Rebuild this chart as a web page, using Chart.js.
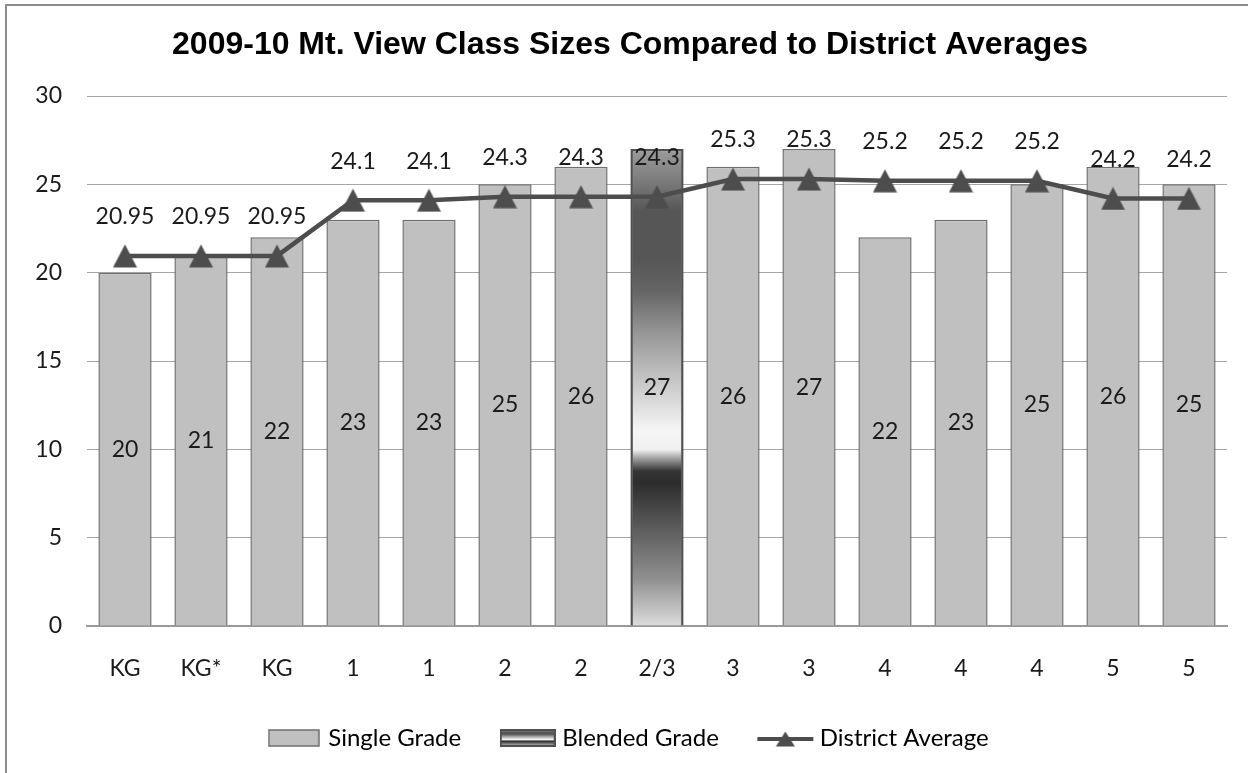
<!DOCTYPE html>
<html>
<head>
<meta charset="utf-8">
<title>2009-10 Mt. View Class Sizes</title>
<script src="https://cdn.jsdelivr.net/npm/chart.js@4.4.0/dist/chart.umd.min.js"></script>
<style>
    body { margin: 0; background: #fff; overflow: hidden; }
    .frame {
        position: absolute; left: 5px; top: 4px; width: 1300px; height: 820px;
        border-top: 2px solid #8c8c8c; border-left: 2px solid #8c8c8c;
    }
    #classChart { position: absolute; left: 0; top: 0; }
</style>
</head>
<body>
<div class="frame"></div>
<canvas id="classChart" width="1248" height="773"></canvas>
<script>
const grades = ['KG', 'KG*', 'KG', '1', '1', '2', '2', '2/3', '3', '3', '4', '4', '4', '5', '5'];
const singleGrade = [20, 21, 22, 23, 23, 25, 26, null, 26, 27, 22, 23, 25, 26, 25];
const blendedGrade = [null, null, null, null, null, null, null, 27, null, null, null, null, null, null, null];
const districtAverage = [20.95, 20.95, 20.95, 24.1, 24.1, 24.3, 24.3, 24.3, 25.3, 25.3, 25.2, 25.2, 25.2, 24.2, 24.2];
const yTicks = [0, 5, 10, 15, 20, 25, 30];

const textFont = 'Lato, "Open Sans", sans-serif';
const textColor = '#1a1a1a';
const barGray = '#c0c0c0';
const lineGray = '#4d4d4d';

// the blended bar is shaded like a metal tube
const blendStops = [
    [0.00, '#9c9c9c'], [0.07, '#7a7a7a'], [0.13, '#565656'], [0.23, '#565656'],
    [0.30, '#666666'], [0.38, '#939393'], [0.49, '#c8c8c8'], [0.59, '#f5f5f5'],
    [0.63, '#f0f0f0'], [0.65, '#9a9a9a'], [0.675, '#353535'], [0.70, '#2d2d2d'],
    [0.76, '#4a4a4a'], [0.83, '#6d6d6d'], [0.90, '#8f8f8f'], [0.97, '#c5c5c5'],
    [1.00, '#dcdcdc']
];

function blendGradient(ctx, top, bottom) {
    const g = ctx.createLinearGradient(0, top, 0, bottom);
    blendStops.forEach(s => g.addColorStop(s[0], s[1]));
    return g;
}

function makeCanvas(w, h, draw) {
    const c = document.createElement('canvas');
    c.width = w;
    c.height = h;
    draw(c.getContext('2d'), w, h);
    return c;
}

function triangle(ctx, cx, cy, w, h) {
    ctx.beginPath();
    ctx.moveTo(cx, cy - h / 2);
    ctx.lineTo(cx + w / 2, cy + h / 2);
    ctx.lineTo(cx - w / 2, cy + h / 2);
    ctx.closePath();
    ctx.fill();
}

const pointMarker = makeCanvas(25, 24, (ctx, w, h) => {
    ctx.fillStyle = lineGray;
    triangle(ctx, w / 2, h / 2, 24, 23);
});

const singleIcon = makeCanvas(52, 18, (ctx, w, h) => {
    ctx.fillStyle = barGray;
    ctx.fillRect(1, 1, w - 2, h - 2);
    ctx.strokeStyle = '#6f6f6f';
    ctx.lineWidth = 1.5;
    ctx.strokeRect(1, 1, w - 2, h - 2);
});

const blendedIcon = makeCanvas(56, 18, (ctx, w, h) => {
    ctx.fillStyle = blendGradient(ctx, 1, h - 1);
    ctx.fillRect(1, 1, w - 2, h - 2);
    ctx.strokeStyle = '#505050';
    ctx.lineWidth = 2;
    ctx.strokeRect(1, 1, w - 2, h - 2);
});

const districtIcon = makeCanvas(58, 18, (ctx, w, h) => {
    ctx.strokeStyle = lineGray;
    ctx.lineWidth = 4;
    ctx.beginPath();
    ctx.moveTo(1, h / 2 + 1);
    ctx.lineTo(w - 1, h / 2 + 1);
    ctx.stroke();
    ctx.fillStyle = lineGray;
    triangle(ctx, w / 2, h / 2 + 1, 19, 15);
});

// value labels: centred in the bars, above the line points
const valueLabels = {
    id: 'valueLabels',
    afterDatasetsDraw(chart) {
        const ctx = chart.ctx;
        ctx.save();
        ctx.font = '23px ' + textFont;
        ctx.fillStyle = textColor;
        ctx.textAlign = 'center';
        ctx.textBaseline = 'middle';
        chart.data.datasets.forEach((ds, i) => {
            const meta = chart.getDatasetMeta(i);
            meta.data.forEach((el, j) => {
                const v = ds.data[j];
                if (v == null) return;
                const p = el.getProps(['x', 'y', 'base'], true);
                if (ds.type === 'line') {
                    ctx.fillText(String(v), p.x, p.y - 39);
                } else {
                    ctx.fillText(String(v), p.x, (p.y + p.base) / 2);
                }
            });
        });
        ctx.restore();
    }
};

const legendIcons = [singleIcon, blendedIcon, districtIcon];

new Chart(document.getElementById('classChart'), {
    data: {
        labels: grades,
        datasets: [{
            type: 'bar',
            label: 'Single Grade',
            data: singleGrade,
            backgroundColor: barGray,
            borderColor: '#6f6f6f',
            borderWidth: 1.5,
            grouped: false,
            categoryPercentage: 1,
            barPercentage: 0.7,
            order: 2
        }, {
            type: 'bar',
            label: 'Blended Grade',
            data: blendedGrade,
            backgroundColor: function(c) {
                const chart = c.chart;
                if (!chart.chartArea || c.raw == null) return '#777';
                const y = chart.scales.y;
                return blendGradient(chart.ctx, y.getPixelForValue(c.raw), y.getPixelForValue(0));
            },
            borderColor: '#505050',
            borderWidth: 2.5,
            grouped: false,
            categoryPercentage: 1,
            barPercentage: 0.7,
            order: 1
        }, {
            type: 'line',
            label: 'District Average',
            data: districtAverage,
            borderColor: lineGray,
            borderWidth: 4.5,
            tension: 0,
            pointStyle: pointMarker,
            pointRadius: 12,
            pointHoverRadius: 12,
            order: 0
        }]
    },
    options: {
        responsive: false,
        animation: false,
        devicePixelRatio: 1,
        layout: { padding: { left: 33, right: 21, top: 0, bottom: 13 } },
        plugins: {
            tooltip: { enabled: false },
            title: {
                display: true,
                text: '2009-10 Mt. View Class Sizes Compared to District Averages',
                color: '#000',
                font: { family: '"Liberation Sans", Arial, sans-serif', size: 32, weight: 'bold' },
                padding: { top: 26, bottom: 31.6 }
            },
            legend: {
                position: 'bottom',
                labels: {
                    usePointStyle: true,
                    pointStyleWidth: 45,
                    padding: 44,
                    color: textColor,
                    font: { family: textFont, size: 24 },
                    generateLabels: chart => chart.data.datasets.map((ds, i) => ({
                        text: ds.label,
                        pointStyle: legendIcons[i],
                        fillStyle: barGray,
                        strokeStyle: lineGray,
                        lineWidth: 0,
                        hidden: false,
                        datasetIndex: i
                    }))
                }
            }
        },
        scales: {
            x: {
                offset: true,
                grid: { display: false, drawTicks: false },
                border: { display: true, color: '#999999', width: 2 },
                ticks: { color: textColor, font: { family: textFont, size: 23 }, padding: 29, maxRotation: 0 },
                afterFit: s => { s.height = 56; }
            },
            y: {
                min: 0,
                max: 30,
                grid: { color: '#a6a6a6', lineWidth: 1, drawTicks: false },
                border: { display: false },
                ticks: {
                    stepSize: 5,
                    padding: 25,
                    color: textColor,
                    font: { family: textFont, size: 23 },
                    callback: v => yTicks.includes(v) ? String(v) : null
                },
                afterFit: s => { s.width = 54; }
            }
        }
    },
    plugins: [valueLabels]
});
</script>
</body>
</html>
